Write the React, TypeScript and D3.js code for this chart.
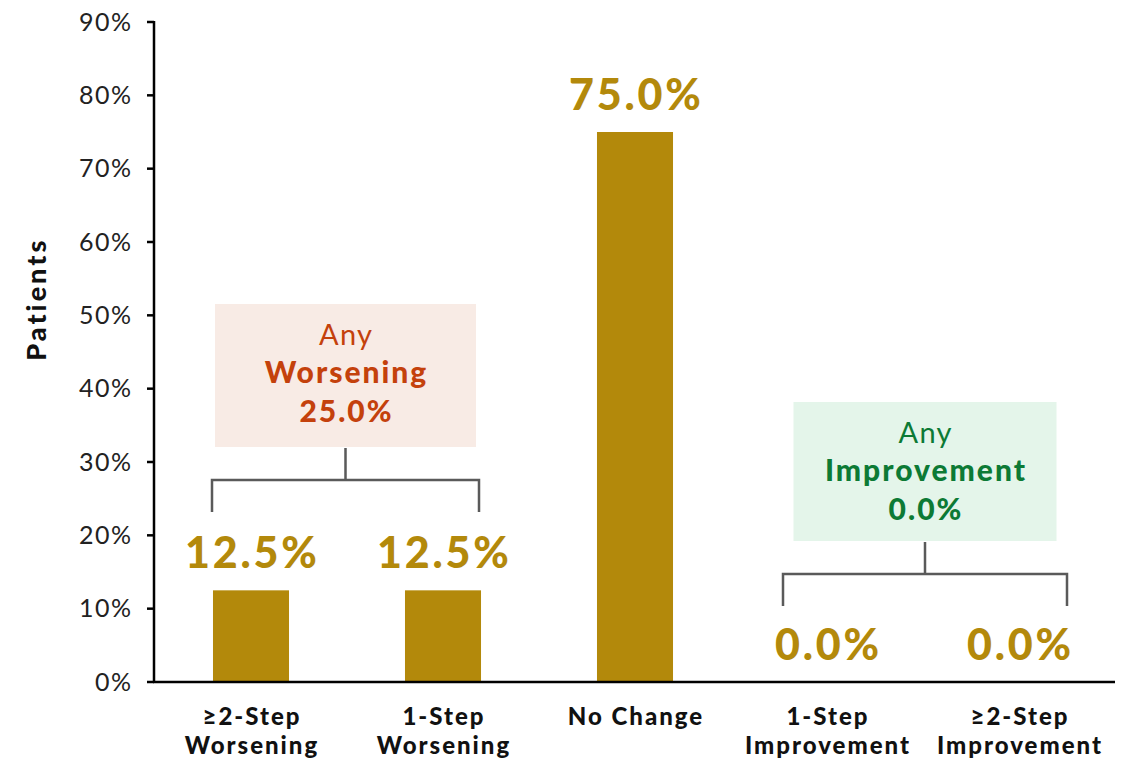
import React from "react";
import * as d3 from "d3";

const categories = ["≥2-Step|Worsening", "1-Step|Worsening", "No Change", "1-Step|Improvement", "≥2-Step|Improvement"];
const values = [12.5, 12.5, 75.0, 0.0, 0.0];
const yTicks = [0, 10, 20, 30, 40, 50, 60, 70, 80, 90];

const groupLabels = ["Any", "Worsening", "Any", "Improvement"];
const groupValues = [25.0, 0.0];

const W = 1133;
const H = 763;
const FONT = "Lato, 'Open Sans', sans-serif";
const GOLD = "#b3890b";
const AXIS = "#000";

export default function App() {
  const x = d3
    .scaleBand<string>()
    .domain(categories)
    .range([155, 1115])
    .paddingInner(0.604)
    .paddingOuter(0.302);
  const y = d3.scaleLinear().domain([0, 90]).range([682, 22]);
  const bw = x.bandwidth();
  const cx = (c: string) => (x(c) as number) + bw / 2;

  const fmt = (v: number) => v.toFixed(1) + "%";

  const renderGroup = (
    key: string,
    leftX: number,
    rightX: number,
    yBar: number,
    boxTop: number,
    boxBottom: number,
    boxHalf: number,
    title1: string,
    title2: string,
    val: number,
    color: string,
    fill: string
  ) => {
    const mid = (leftX + rightX) / 2;
    const legBottom = yBar + 32;
    return (
      <g key={key}>
        <rect x={mid - boxHalf} y={boxTop} width={boxHalf * 2} height={boxBottom - boxTop} fill={fill} />
        <text x={mid} dx={0.6} y={boxTop + 41} textAnchor="middle" fontSize={29} letterSpacing={1.2} fill={color} fontFamily={FONT} fontWeight={400}>
          {title1}
        </text>
        <text x={mid} dx={1} y={boxTop + 79} textAnchor="middle" fontSize={30} letterSpacing={2} fill={color} fontFamily={FONT} fontWeight={900}>
          {title2}
        </text>
        <text x={mid} dx={1} y={boxTop + 118} textAnchor="middle" fontSize={30} letterSpacing={2} fill={color} fontFamily={FONT} fontWeight={900}>
          {fmt(val)}
        </text>
        <path
          d={`M${leftX},${legBottom}V${yBar}H${rightX}V${legBottom}M${mid},${yBar}V${boxBottom + 1}`}
          fill="none"
          stroke="#5a5a5a"
          strokeWidth={2.5}
        />
      </g>
    );
  };

  return (
    <svg width={W} height={H} style={{ position: "absolute", left: 0, top: 0, background: "#fff" }}>
      {/* y axis */}
      <line x1={154} x2={154} y1={y(90) - 1} y2={y(0) + 1} stroke={AXIS} strokeWidth={2.5} />
      {yTicks.map((t) => (
        <g key={t}>
          <line x1={147} x2={154} y1={y(t)} y2={y(t)} stroke={AXIS} strokeWidth={2.5} />
          <text x={131} dx={1.5} y={y(t)} dy="0.35em" textAnchor="end" fontSize={25} letterSpacing={1.5} fill="#222" fontFamily={FONT}>
            {t}%
          </text>
        </g>
      ))}
      <text
        transform={`translate(46,${y(52)}) rotate(-90)`}
        textAnchor="middle"
        fontSize={27}
        letterSpacing={3}
        dx={1.5}
        fontWeight={900}
        fill="#111"
        fontFamily={FONT}
      >
        Patients
      </text>

      {/* bars */}
      {categories.map((c, i) => (
        <rect key={c} x={x(c)} y={y(values[i])} width={bw} height={y(0) - y(values[i])} fill={GOLD} />
      ))}

      {/* x axis */}
      <line x1={153} x2={1115} y1={y(0)} y2={y(0)} stroke={AXIS} strokeWidth={2.5} />

      {/* value labels */}
      {categories.map((c, i) => (
        <text
          key={c + "-v"}
          x={cx(c)}
          dx={1.4}
          y={y(values[i]) - 22}
          textAnchor="middle"
          fontSize={43}
          letterSpacing={2.8}
          fontWeight={900}
          fill={GOLD}
          fontFamily={FONT}
        >
          {fmt(values[i])}
        </text>
      ))}

      {/* category labels */}
      {categories.map((c) => {
        const lines = c.split("|");
        return (
          <text key={c + "-l"} x={cx(c)} y={725} textAnchor="middle" fontSize={24} letterSpacing={2} fontWeight={900} fill="#111" fontFamily={FONT}>
            {lines.map((ln, j) => (
              <tspan key={j} x={cx(c) + 1} dy={j === 0 ? 0 : 29}>
                {ln}
              </tspan>
            ))}
          </text>
        );
      })}

      {/* group brackets */}
      {renderGroup(
        "worse",
        cx(categories[0]) - 39,
        cx(categories[1]) + 36,
        480,
        304,
        447,
        130.5,
        groupLabels[0],
        groupLabels[1],
        groupValues[0],
        "#c4410c",
        "#f8ebe5"
      )}
      {renderGroup(
        "improve",
        cx(categories[3]) - 44,
        cx(categories[4]) + 48,
        574,
        402,
        541,
        131.5,
        groupLabels[2],
        groupLabels[3],
        groupValues[1],
        "#0c7a35",
        "#e4f5ea"
      )}
    </svg>
  );
}
